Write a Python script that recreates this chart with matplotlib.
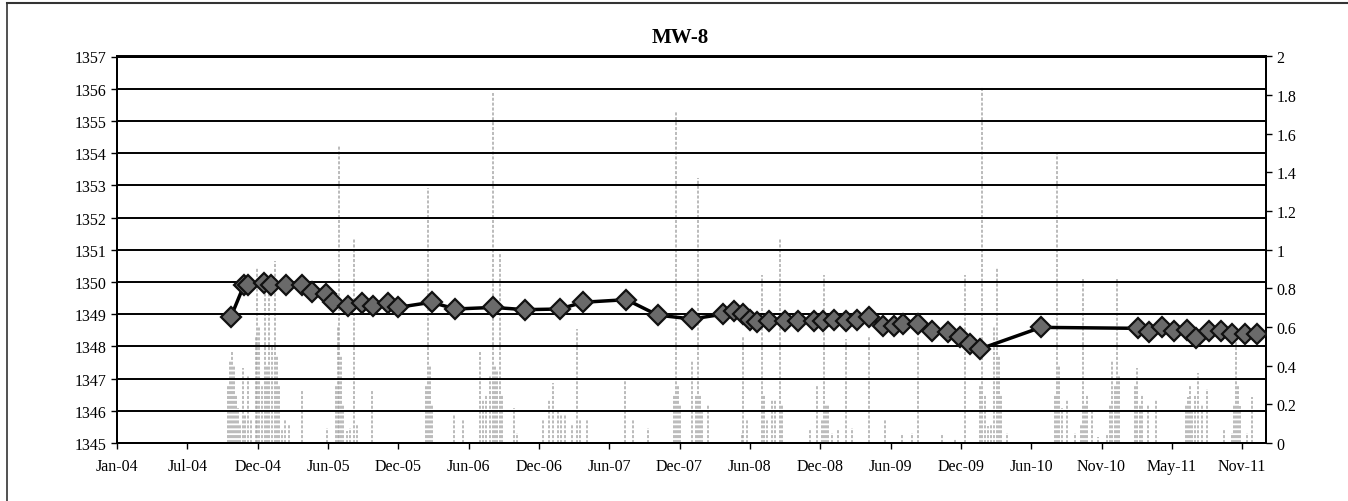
import datetime as dt
import matplotlib
matplotlib.use('Agg')
import matplotlib.pyplot as plt
import matplotlib.dates as mdates
from matplotlib.lines import Line2D

# water level (left axis)
level_dates = ['2004-10-22', '2004-11-25', '2004-12-05', '2005-01-15', '2005-02-01', '2005-03-12',
               '2005-04-23', '2005-05-17', '2005-06-24', '2005-07-11', '2005-08-18', '2005-09-22',
               '2005-10-21', '2005-11-29', '2005-12-24', '2006-03-20', '2006-05-20', '2006-08-25',
               '2006-11-14', '2007-02-11', '2007-04-12', '2007-08-01', '2007-10-20', '2008-01-16',
               '2008-04-04', '2008-05-03', '2008-05-26', '2008-06-12', '2008-06-30', '2008-07-30',
               '2008-09-09', '2008-10-13', '2008-11-23', '2008-12-17', '2009-01-14', '2009-02-13',
               '2009-03-13', '2009-04-13', '2009-05-19', '2009-06-16', '2009-07-09', '2009-08-16',
               '2009-09-21', '2009-11-01', '2009-12-01', '2009-12-27', '2010-01-22', '2010-06-27',
               '2011-03-03', '2011-03-31', '2011-05-02', '2011-06-03', '2011-07-05', '2011-07-29',
               '2011-09-01', '2011-09-30', '2011-10-28', '2011-12-01', '2011-12-31']
level_values = [1348.90, 1349.90, 1349.90, 1349.97, 1349.90, 1349.90,
                1349.90, 1349.68, 1349.63, 1349.37, 1349.26, 1349.35,
                1349.26, 1349.35, 1349.21, 1349.37, 1349.16, 1349.21,
                1349.14, 1349.16, 1349.37, 1349.45, 1348.97, 1348.85,
                1349.00, 1349.11, 1349.00, 1348.83, 1348.75, 1348.80,
                1348.80, 1348.80, 1348.80, 1348.80, 1348.82, 1348.80,
                1348.82, 1348.90, 1348.64, 1348.64, 1348.69, 1348.69,
                1348.49, 1348.44, 1348.28, 1348.07, 1347.92, 1348.59,
                1348.56, 1348.44, 1348.59, 1348.49, 1348.51, 1348.25,
                1348.49, 1348.49, 1348.38, 1348.38, 1348.38]

# precipitation (right axis)
precip_dates = ['2004-10-14', '2004-10-20', '2004-10-25', '2004-10-30', '2004-11-04', '2004-11-09',
                '2004-11-14', '2004-11-22', '2004-11-27', '2004-12-05', '2004-12-12', '2004-12-25',
                '2004-12-28', '2005-01-02', '2005-01-09', '2005-01-17', '2005-01-22', '2005-01-27',
                '2005-02-04', '2005-02-12', '2005-02-17', '2005-02-22', '2005-03-02', '2005-03-09',
                '2005-03-20', '2005-04-22', '2005-06-25', '2005-07-18', '2005-07-23', '2005-07-26',
                '2005-07-31', '2005-08-05', '2005-08-15', '2005-08-23', '2005-09-02', '2005-09-10',
                '2005-10-18', '2006-03-05', '2006-03-10', '2006-03-16', '2006-03-21', '2006-05-16',
                '2006-06-08', '2006-07-22', '2006-07-29', '2006-08-06', '2006-08-16', '2006-08-24',
                '2006-08-29', '2006-09-03', '2006-09-11', '2006-09-16', '2006-10-17', '2006-10-24',
                '2006-12-30', '2007-01-14', '2007-01-24', '2007-02-06', '2007-02-14', '2007-02-24',
                '2007-03-14', '2007-03-27', '2007-04-04', '2007-04-22', '2007-07-28', '2007-08-17',
                '2007-09-25', '2007-11-30', '2007-12-05', '2007-12-11', '2007-12-16', '2008-01-15',
                '2008-01-26', '2008-01-31', '2008-02-05', '2008-02-10', '2008-02-25', '2008-05-22',
                '2008-05-25', '2008-06-04', '2008-07-13', '2008-07-18', '2008-07-25', '2008-08-07',
                '2008-08-15', '2008-08-28', '2008-09-02', '2008-11-12', '2008-11-30', '2008-12-13',
                '2008-12-18', '2008-12-23', '2008-12-29', '2009-01-08', '2009-01-23', '2009-02-13',
                '2009-02-28', '2009-04-13', '2009-05-24', '2009-07-06', '2009-08-01', '2009-08-16',
                '2009-10-16', '2009-11-19', '2009-12-14', '2010-01-22', '2010-01-27', '2010-02-04',
                '2010-02-11', '2010-02-19', '2010-02-27', '2010-03-06', '2010-03-11', '2010-03-17',
                '2010-04-01', '2010-08-02', '2010-08-07', '2010-08-12', '2010-08-20', '2010-09-02',
                '2010-09-22', '2010-10-07', '2010-10-12', '2010-10-18', '2010-10-23', '2010-11-05',
                '2010-11-20', '2010-12-13', '2010-12-21', '2010-12-26', '2011-01-02', '2011-01-08',
                '2011-01-13', '2011-02-23', '2011-02-28', '2011-03-07', '2011-03-13', '2011-03-28',
                '2011-04-17', '2011-07-03', '2011-07-08', '2011-07-13', '2011-07-19', '2011-07-26',
                '2011-08-03', '2011-08-13', '2011-08-26', '2011-10-09', '2011-10-29', '2011-11-03',
                '2011-11-08', '2011-11-13', '2011-11-19', '2011-12-06', '2011-12-19']
precip_values = [0.30, 0.43, 0.47, 0.40, 0.25, 0.18,
                 0.10, 0.39, 0.15, 0.35, 0.12, 0.55,
                 0.91, 0.60, 0.30, 0.85, 0.40, 0.83,
                 0.50, 0.94, 0.45, 0.30, 0.07, 0.12,
                 0.10, 0.27, 0.08, 0.30, 0.60, 1.54,
                 0.45, 0.20, 0.06, 0.08, 1.06, 0.10,
                 0.27, 0.30, 1.32, 0.40, 0.20, 0.15,
                 0.12, 0.47, 0.23, 0.25, 0.35, 1.81,
                 0.40, 0.37, 0.98, 0.25, 0.18, 0.05,
                 0.12, 0.23, 0.31, 0.17, 0.15, 0.15,
                 0.10, 0.59, 0.12, 0.12, 0.32, 0.12,
                 0.08, 0.25, 1.72, 0.30, 0.20, 0.43,
                 0.25, 1.37, 0.25, 0.16, 0.20, 0.05,
                 0.55, 0.12, 0.87, 0.25, 0.12, 0.23,
                 0.23, 1.06, 0.20, 0.07, 0.30, 0.12,
                 0.87, 0.20, 0.20, 0.05, 0.07, 0.54,
                 0.08, 0.55, 0.12, 0.04, 0.05, 0.55,
                 0.04, 0.02, 0.87, 0.30, 1.84, 0.25,
                 0.09, 0.10, 0.60, 0.91, 0.45, 0.25,
                 0.05, 0.25, 1.50, 0.40, 0.18, 0.23,
                 0.05, 0.10, 0.85, 0.20, 0.25, 0.16,
                 0.03, 0.04, 0.20, 0.43, 0.30, 0.85,
                 0.35, 0.30, 0.39, 0.20, 0.25, 0.20,
                 0.23, 0.20, 0.24, 0.30, 0.17, 0.25,
                 0.36, 0.20, 0.28, 0.07, 0.05, 0.20,
                 0.53, 0.30, 0.19, 0.05, 0.24]

axis_start = dt.datetime(2004, 1, 5)
axis_days = 2941
tick_step = 180

serif = ['Liberation Serif', 'DejaVu Serif']
plt.rcParams['font.family'] = serif

fig = plt.figure(figsize=(13.48, 5.02), dpi=100)
ax = fig.add_axes([117 / 1348, 1 - 444 / 502, (1266 - 117) / 1348, (444 - 57.5) / 502])
ax2 = ax.twinx()

lv_x = [dt.datetime.strptime(d, '%Y-%m-%d') for d in level_dates]
pr_x = [dt.datetime.strptime(d, '%Y-%m-%d') for d in precip_dates]

# precipitation bars, gray dashed look like the scanned chart
ax2.vlines(pr_x, 0, precip_values, colors='#a8a8a8', linewidth=1.1, linestyles=(0, (2, 1.2)))
ax2.set_ylim(0, 2)
ax2.set_yticks([i * 0.2 for i in range(11)])
ax2.set_yticklabels(['0', '0.2', '0.4', '0.6', '0.8', '1', '1.2', '1.4', '1.6', '1.8', '2'])

ax.set_zorder(ax2.get_zorder() + 1)
ax.patch.set_visible(False)

ax.plot(lv_x, level_values, color='black', linewidth=2.5, marker='D', markersize=10.5,
        markerfacecolor='#6a6a6a', markeredgecolor='#111111', markeredgewidth=1.6, zorder=5)

ax.set_ylim(1345, 1357)
ax.set_yticks(range(1345, 1358))
ax.yaxis.grid(True, color='black', linewidth=1.4)
ax.set_axisbelow(True)

ticks = [axis_start + dt.timedelta(days=tick_step * k) for k in range(17)]
ax.set_xlim(axis_start, axis_start + dt.timedelta(days=axis_days))
ax.set_xticks(ticks)
ax.xaxis.set_major_formatter(mdates.DateFormatter('%b-%y'))

for a in (ax, ax2):
    a.tick_params(direction='out', length=4, width=1, labelsize=11.5, colors='black')
    for s in a.spines.values():
        s.set_linewidth(1.4)
        s.set_color('black')
ax.tick_params(axis='x', pad=7)

fig.text(680 / 1348, 1 - 38 / 502, 'MW-8', ha='center', va='center', fontsize=15,
         fontweight='bold', family=serif)

# outer frame of the scanned chart
fig.add_artist(Line2D([7 / 1348, 7 / 1348], [0, 1 - 4 / 502], transform=fig.transFigure,
                      color='#333333', linewidth=1.2))
fig.add_artist(Line2D([7 / 1348, 1], [1 - 4 / 502, 1 - 4 / 502], transform=fig.transFigure,
                      color='#333333', linewidth=1.5))

plt.savefig('out.png', dpi=100)
